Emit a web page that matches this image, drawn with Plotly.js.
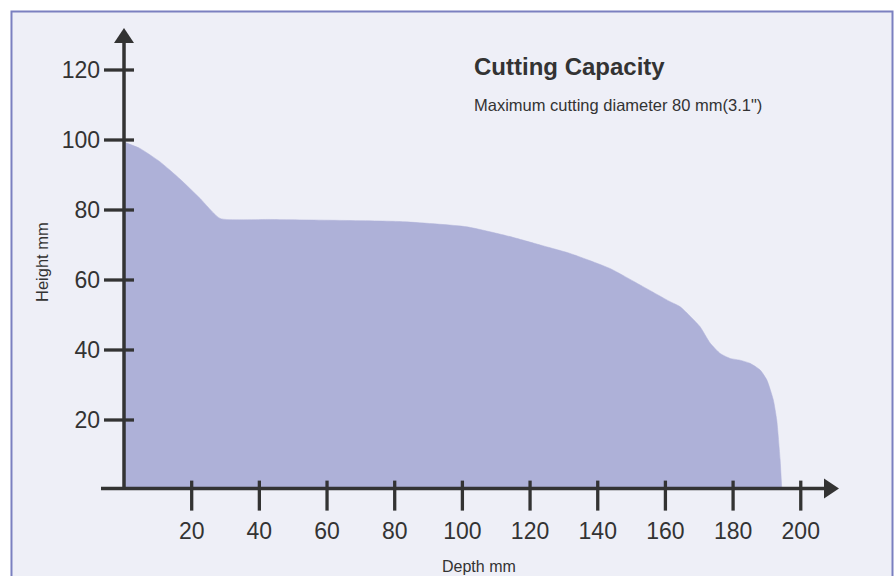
<!DOCTYPE html>
<html>
<head>
<meta charset="utf-8">
<script src="https://cdn.plot.ly/plotly-3.0.1.min.js"></script>
<style>html,body{margin:0;padding:0;background:#fff;}#chart{width:896px;height:576px;}</style>
</head>
<body>
<div id="chart"></div>
<script>
// Data
const depthMm = [0, 4.7, 10.6, 16.6, 22.5, 28.4, 43.2, 81.6, 101.3, 114.1, 123, 131.8, 143.6, 152.5, 161.4, 164.3, 170.2, 173.2, 176.2, 179.1, 182, 185, 188, 190, 191.9, 192.9, 193.9, 194.4];
const heightMm = [99.4, 97.6, 93.8, 88.8, 83.3, 77.6, 77.3, 76.7, 75.2, 72.4, 70, 67.6, 63.3, 58.6, 53.8, 52.4, 46.7, 42.0, 39.0, 37.6, 37.1, 36.2, 34.3, 31.4, 25.7, 20, 8.7, 0];
const xTicks = [20, 40, 60, 80, 100, 120, 140, 160, 180, 200];
const yTicks = [20, 40, 60, 80, 100, 120];
const xTickText = xTicks.map(String);
const yTickText = yTicks.map(String);
const titleText = 'Cutting Capacity';
const subtitleText = 'Maximum cutting diameter 80 mm(3.1")';
const xTitleText = 'Depth mm';
const yTitleText = 'Height mm';

const AX = '#333333';
const FONT = '"Liberation Sans", Arial, Helvetica, sans-serif';

const shapes = [];
// frame
shapes.push({type:'rect', xref:'paper', yref:'paper', x0:-0.1213, x1:1.0725, y0:-0.25, y1:1.0357,
  line:{color:'#7b80c0', width:2}, fillcolor:'#eeeff7', layer:'below'});
// axis lines
shapes.push({type:'line', xref:'paper', yref:'paper', x0:0, x1:0.9797, y0:0.003, y1:0.003, line:{color:AX, width:3.5}});
shapes.push({type:'line', xref:'x', yref:'y', x0:0, x1:0, y0:0, y1:127.8, line:{color:AX, width:3.5}});
// arrowheads
shapes.push({type:'path', xref:'paper', yref:'paper', xsizemode:'pixel', ysizemode:'pixel', xanchor:1, yanchor:0.003,
  path:'M0,0 L-15,10 L-15,-10 Z', fillcolor:AX, line:{width:0}});
shapes.push({type:'path', xref:'x', yref:'paper', xsizemode:'pixel', ysizemode:'pixel', xanchor:0, yanchor:1,
  path:'M0,0 L-10,-15 L10,-15 Z', fillcolor:AX, line:{width:0}});
// tick marks crossing the axes
xTicks.forEach(v => shapes.push({type:'line', xref:'x', yref:'paper', ysizemode:'pixel', yanchor:0.003,
  x0:v, x1:v, y0:-22, y1:8, line:{color:AX, width:3.3}}));
yTicks.forEach(v => shapes.push({type:'line', xref:'x', yref:'y', xsizemode:'pixel', xanchor:0,
  x0:-20, x1:10, y0:v, y1:v, line:{color:AX, width:3.3}}));

const trace = {
  x: depthMm, y: heightMm, type:'scatter', mode:'lines', fill:'tozeroy',
  fillcolor:'#aeb1d8', line:{color:'#aeb1d8', width:0.5, shape:'spline', smoothing:0.5},
  hoverinfo:'skip', showlegend:false
};

const layout = {
  width:896, height:576,
  margin:{l:101, r:57, t:28, b:86},
  paper_bgcolor:'#ffffff', plot_bgcolor:'rgba(0,0,0,0)',
  showlegend:false,
  xaxis:{range:[-6.8, 211.3], showgrid:false, zeroline:false, showline:false, ticks:'',
    tickmode:'array', tickvals:xTicks, ticktext:xTickText, ticklabelstandoff:25,
    tickfont:{family:FONT, size:23, color:AX}, fixedrange:true},
  yaxis:{range:[0, 132], showgrid:false, zeroline:false, showline:false, ticks:'',
    tickmode:'array', tickvals:yTicks, ticktext:yTickText, ticklabelstandoff:0,
    tickfont:{family:FONT, size:23, color:AX}, fixedrange:true},
  shapes: shapes,
  annotations:[
    {text:'<b>'+titleText+'</b>', xref:'paper', yref:'paper', x:0.5023, y:0.9156, xanchor:'left', yanchor:'middle',
      showarrow:false, font:{family:FONT, size:24, color:AX}},
    {text:subtitleText, xref:'paper', yref:'paper', x:0.5023, y:0.8323, xanchor:'left', yanchor:'middle',
      showarrow:false, font:{family:FONT, size:16.5, color:AX}},
    {text:xTitleText, xref:'paper', yref:'paper', x:(479-101)/738, y:(490-566)/462, xanchor:'center', yanchor:'middle',
      showarrow:false, font:{family:FONT, size:16, color:AX}},
    {text:yTitleText, xref:'paper', yref:'paper', x:(42-101)/738, y:(490-262)/462, xanchor:'center', yanchor:'middle',
      textangle:-90, showarrow:false, font:{family:FONT, size:16.5, color:AX}}
  ]
};

Plotly.newPlot('chart', [trace], layout, {displayModeBar:false, staticPlot:true});
</script>
</body>
</html>
